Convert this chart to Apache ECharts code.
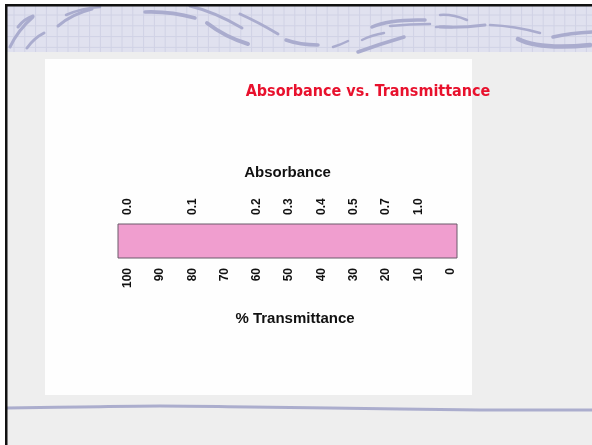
<!DOCTYPE html>
<html>
<head>
<meta charset="utf-8">
<script src="https://cdn.jsdelivr.net/npm/echarts@6/dist/echarts.min.js"></script>
<style>html,body{margin:0;padding:0;background:#fff}#c{width:592px;height:445px}</style>
</head>
<body>
<div id="c"></div>
<script>
// ---- data ----
const transmittanceTicks = [100, 90, 80, 70, 60, 50, 40, 30, 20, 10, 0];
const absorbanceLabels = ['0.0', '0.1', '0.2', '0.3', '0.4', '0.5', '0.7', '1.0'];
const absorbanceAtTransmittance = [100, 80, 60, 50, 40, 30, 20, 10];
const scaleBar = [[103, -2]]; // transmittance span of the pink scale bar
const titleText = 'Absorbance vs. Transmittance';
const topAxisName = 'Absorbance';
const bottomAxisName = '% Transmittance';

// ---- decoration (slide background) ----
const deco = [];
deco.push({type:'rect', z:-100, shape:{x:0,y:0,width:592,height:445}, style:{fill:'#ffffff'}});
deco.push({type:'rect', z:-99, shape:{x:6,y:5,width:586,height:440}, style:{fill:'#eeeeee'}});
deco.push({type:'rect', z:-98, shape:{x:6,y:6,width:586,height:46}, style:{fill:'#e0e1ef'}});
for (let x = 14; x < 592; x += 10.8) {
  deco.push({type:'line', z:-97, shape:{x1:x,y1:6,x2:x,y2:52}, style:{stroke:'#d0d2e5', lineWidth:1}});
}
for (let y = 15; y < 52; y += 10.8) {
  deco.push({type:'line', z:-97, shape:{x1:6,y1:y,x2:592,y2:y}, style:{stroke:'#d0d2e5', lineWidth:1}});
}
const swooshes = [
  [10,47,33,17,18,30,3], [18,27,33,16,24,19,3], [27,48,44,33,34,38,3],
  [58,26,92,9,72,14,3], [66,15,100,7,82,8,2.5], [145,12,195,18,170,11,3.5],
  [190,6,242,28,215,12,3], [207,23,248,44,225,37,4], [240,14,278,34,258,22,3],
  [286,40,318,45,300,45,3.5], [333,47,348,41,340,45,2.5], [358,52,404,37,380,44,3.5],
  [362,40,384,33,372,35,2.5], [372,27,425,20,390,19,3.5], [390,26,430,24,410,24,2.5],
  [436,27,452,27,444,26,2.5], [440,15,467,20,452,14,2.5], [440,27,485,25,462,28,3],
  [490,25,540,33,515,26,2.5], [518,39,590,45,540,50,4.5], [553,37,592,32,570,33,3.5]
];
swooshes.forEach(s => deco.push({type:'bezierCurve', z:-96,
  shape:{x1:s[0],y1:s[1],x2:s[2],y2:s[3],cpx1:s[4],cpy1:s[5]},
  style:{stroke:'#aaacce', lineWidth:s[6], lineCap:'round', fill:null}}));
deco.push({type:'rect', z:-95, shape:{x:45,y:59,width:427,height:336}, style:{fill:'#fefefe'}});
deco.push({type:'polyline', z:-95, shape:{points:[[7,408],[80,407],[160,406],[250,407],[330,408],[400,409],[480,410],[592,410]], smooth:0.4},
  style:{stroke:'#abadcd', lineWidth:3, fill:null}});
deco.push({type:'rect', z:-94, shape:{x:5,y:4,width:587,height:2.5}, style:{fill:'#111'}});
deco.push({type:'rect', z:-94, shape:{x:5,y:4,width:2.5,height:441}, style:{fill:'#111'}});
deco.push({type:'text', z:100, x:368, y:92, style:{text:titleText, align:'center', verticalAlign:'middle',
  font:'bold 16px "DejaVu Sans Condensed", "DejaVu Sans", sans-serif', fill:'#e8112d'}});

const labelStyle = {fontWeight:'bold', fontSize:12, color:'#111', fontFamily:'"Liberation Sans", Arial, sans-serif'};

const chart = echarts.init(document.getElementById('c'), null, {renderer:'canvas'});
chart.setOption({
  animation:false,
  graphic:{elements:deco},
  grid:{left:118, right:135, top:224, height:34, containLabel:false},
  xAxis:[
    {type:'value', position:'bottom', min:-2, max:103, inverse:true,
     axisLine:{show:false}, axisTick:{show:false}, splitLine:{show:false},
     axisLabel:Object.assign({}, labelStyle, {rotate:90, margin:10, customValues:transmittanceTicks, formatter:v=>String(v)}),
     name:bottomAxisName, nameLocation:'middle', nameGap:53,
     nameTextStyle:{fontSize:15, fontWeight:'bold', color:'#111', fontFamily:'"Liberation Sans", Arial, sans-serif', padding:[0,0,0,15]}},
    {type:'value', position:'top', min:-2, max:103, inverse:true,
     axisLine:{show:false}, axisTick:{show:false}, splitLine:{show:false},
     axisLabel:Object.assign({}, labelStyle, {rotate:-90, margin:9, customValues:absorbanceAtTransmittance,
       formatter:v=>absorbanceLabels[absorbanceAtTransmittance.indexOf(v)]}),
     name:topAxisName, nameLocation:'middle', nameGap:44,
     nameTextStyle:{fontSize:15, fontWeight:'bold', color:'#111', fontFamily:'"Liberation Sans", Arial, sans-serif'}}
  ],
  yAxis:{type:'value', min:0, max:1, show:false},
  series:[{
    type:'custom', xAxisIndex:0, data:scaleBar,
    renderItem:function(params, api){
      const p1 = api.coord([api.value(0), 1]);
      const p2 = api.coord([api.value(1), 0]);
      return {type:'rect', shape:{x:Math.min(p1[0],p2[0]), y:p1[1], width:Math.abs(p2[0]-p1[0]), height:p2[1]-p1[1]},
        style:{fill:'#f09ecf', stroke:'#6b5a6b', lineWidth:1}};
    }
  }]
});
</script>
</body>
</html>
